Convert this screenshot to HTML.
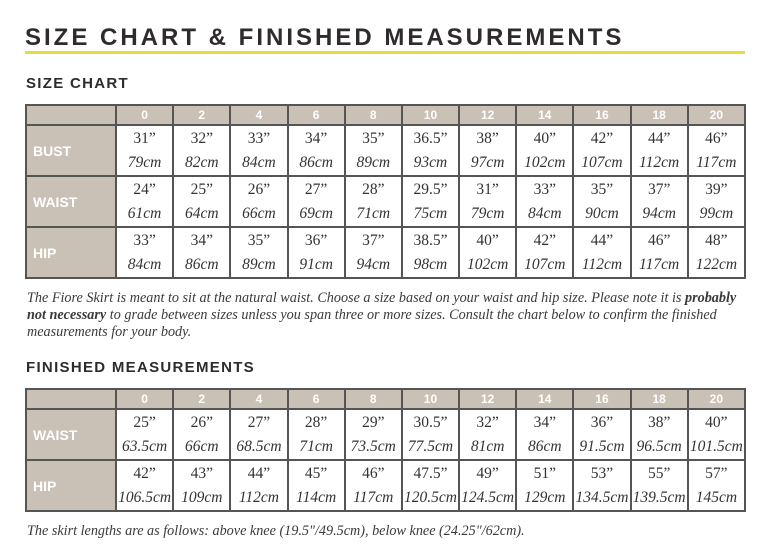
<!DOCTYPE html>
<html><head><meta charset="utf-8"><style>
body{margin:0;width:773px;height:551px;background:#fff;position:relative;overflow:hidden;font-family:"Liberation Serif",serif;color:#333}
h1{position:absolute;left:25px;top:24px;margin:0;font:600 24px "Liberation Sans",sans-serif;letter-spacing:3px;color:#2f2b2b}
.yl{position:absolute;left:25px;top:51px;width:720px;height:3px;background:#e6dc3a}
h2{position:absolute;left:26px;margin:0;font:600 15px "Liberation Sans",sans-serif;letter-spacing:1.3px;color:#2f2b2b}
table{position:absolute;left:25px;border-collapse:collapse;table-layout:fixed;width:721px}
td{border:2px solid #555;padding:0;text-align:center;height:49px;font-size:15.5px;line-height:24px;color:#333}
tr.h td{height:18px;background:#c9c0b6;color:#fff;font:bold 12px/18px "Liberation Sans",sans-serif}
td.l{background:#c9c0b6;color:#fff;font:bold 14px "Liberation Sans",sans-serif;text-align:left;padding-left:6px}
i{font-style:italic}
p{position:absolute;left:27px;margin:0;font-style:italic;font-size:14.2px;line-height:17px;color:#3a3a3a;width:720px}
</style></head><body>
<h1>SIZE CHART &amp; FINISHED MEASUREMENTS</h1>
<div class="yl"></div>
<h2 style="top:75px">SIZE CHART</h2>
<table style="top:104px">
<colgroup><col style="width:90px"><col span="11"></colgroup>
<tr class="h"><td></td><td>0</td><td>2</td><td>4</td><td>6</td><td>8</td><td>10</td><td>12</td><td>14</td><td>16</td><td>18</td><td>20</td></tr>
<tr><td class="l">BUST</td><td>31”<br><i>79cm</i></td><td>32”<br><i>82cm</i></td><td>33”<br><i>84cm</i></td><td>34”<br><i>86cm</i></td><td>35”<br><i>89cm</i></td><td>36.5”<br><i>93cm</i></td><td>38”<br><i>97cm</i></td><td>40”<br><i>102cm</i></td><td>42”<br><i>107cm</i></td><td>44”<br><i>112cm</i></td><td>46”<br><i>117cm</i></td></tr>
<tr><td class="l">WAIST</td><td>24”<br><i>61cm</i></td><td>25”<br><i>64cm</i></td><td>26”<br><i>66cm</i></td><td>27”<br><i>69cm</i></td><td>28”<br><i>71cm</i></td><td>29.5”<br><i>75cm</i></td><td>31”<br><i>79cm</i></td><td>33”<br><i>84cm</i></td><td>35”<br><i>90cm</i></td><td>37”<br><i>94cm</i></td><td>39”<br><i>99cm</i></td></tr>
<tr><td class="l">HIP</td><td>33”<br><i>84cm</i></td><td>34”<br><i>86cm</i></td><td>35”<br><i>89cm</i></td><td>36”<br><i>91cm</i></td><td>37”<br><i>94cm</i></td><td>38.5”<br><i>98cm</i></td><td>40”<br><i>102cm</i></td><td>42”<br><i>107cm</i></td><td>44”<br><i>112cm</i></td><td>46”<br><i>117cm</i></td><td>48”<br><i>122cm</i></td></tr>
</table>
<p style="top:290px">The Fiore Skirt is meant to sit at the natural waist. Choose a size based on your waist and hip size. Please note it is <b>probably not necessary</b> to grade between sizes unless you span three or more sizes. Consult the chart below to confirm the finished measurements for your body.</p>
<h2 style="top:359px">FINISHED MEASUREMENTS</h2>
<table style="top:388px">
<colgroup><col style="width:90px"><col span="11"></colgroup>
<tr class="h"><td></td><td>0</td><td>2</td><td>4</td><td>6</td><td>8</td><td>10</td><td>12</td><td>14</td><td>16</td><td>18</td><td>20</td></tr>
<tr><td class="l">WAIST</td><td>25”<br><i>63.5cm</i></td><td>26”<br><i>66cm</i></td><td>27”<br><i>68.5cm</i></td><td>28”<br><i>71cm</i></td><td>29”<br><i>73.5cm</i></td><td>30.5”<br><i>77.5cm</i></td><td>32”<br><i>81cm</i></td><td>34”<br><i>86cm</i></td><td>36”<br><i>91.5cm</i></td><td>38”<br><i>96.5cm</i></td><td>40”<br><i>101.5cm</i></td></tr>
<tr><td class="l">HIP</td><td>42”<br><i>106.5cm</i></td><td>43”<br><i>109cm</i></td><td>44”<br><i>112cm</i></td><td>45”<br><i>114cm</i></td><td>46”<br><i>117cm</i></td><td>47.5”<br><i>120.5cm</i></td><td>49”<br><i>124.5cm</i></td><td>51”<br><i>129cm</i></td><td>53”<br><i>134.5cm</i></td><td>55”<br><i>139.5cm</i></td><td>57”<br><i>145cm</i></td></tr>
</table>
<p style="top:523px">The skirt lengths are as follows: above knee (19.5"/49.5cm), below knee (24.25"/62cm).</p>
</body></html>
